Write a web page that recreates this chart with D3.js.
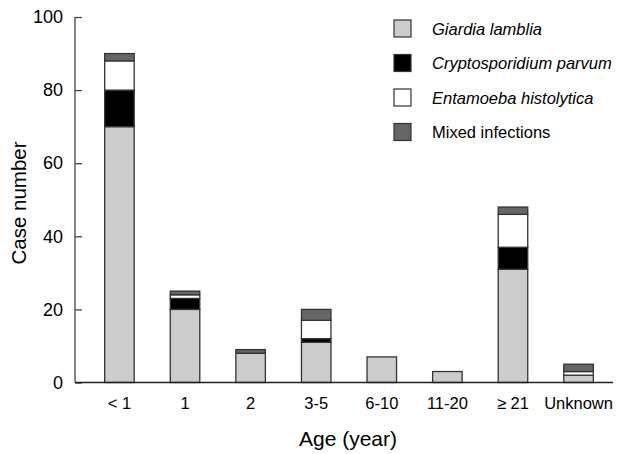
<!DOCTYPE html>
<html>
<head>
<meta charset="utf-8">
<script src="https://cdn.jsdelivr.net/npm/d3@7"></script>
<style>
    body { margin: 0; background: #fff; }
    text { font-family: "Liberation Sans", Arial, sans-serif; fill: #000; }
</style>
</head>
<body>
<svg id="chart" width="617" height="454"></svg>
<script>
    'use strict';

    var ageGroups = ['< 1', '1', '2', '3-5', '6-10', '11-20', '\u2265 21', 'Unknown'];
    var giardiaCases = [70, 20, 8, 11, 7, 3, 31, 2];
    var cryptoCases = [10, 3, 0, 1, 0, 0, 6, 0];
    var entamoebaCases = [8, 1, 0, 5, 0, 0, 9, 1];
    var mixedCases = [2, 1, 1, 3, 0, 0, 2, 2];
    var seriesNames = ['Giardia lamblia', 'Cryptosporidium parvum', 'Entamoeba histolytica', 'Mixed infections'];
    var yTicks = [0, 20, 40, 60, 80, 100];

    var COLORS = ['#cccccc', '#000000', '#ffffff', '#666666'];
    var ITALIC = [true, true, true, false];
    var STROKE = '#333';

    var svg = d3.select('#chart');

    var x = d3.scaleBand()
        .domain(ageGroups)
        .range([85, 613])
        .paddingInner(0.55)
        .paddingOuter(0.3);

    var y = d3.scaleLinear()
        .domain([0, 100])
        .range([382.5, 17]);

    var rows = ageGroups.map(function (age, i) {
        return {age: age, s0: giardiaCases[i], s1: cryptoCases[i], s2: entamoebaCases[i], s3: mixedCases[i]};
    });
    var stacked = d3.stack().keys(['s0', 's1', 's2', 's3'])(rows);

    // bars
    var barsGroup = svg.append('g');
    stacked.forEach(function (layer, k) {
        barsGroup.append('g')
            .selectAll('rect')
            .data(layer.filter(function (d) { return d[1] > d[0]; }))
            .enter()
            .append('rect')
            .attr('x', function (d) { return x(d.data.age); })
            .attr('width', x.bandwidth())
            .attr('y', function (d) { return y(d[1]); })
            .attr('height', function (d) { return y(d[0]) - y(d[1]); })
            .attr('fill', COLORS[k])
            .attr('stroke', STROKE)
            .attr('stroke-width', 1.3);
    });

    // y axis, ticks pointing inward
    var yAxis = svg.append('g')
        .attr('transform', 'translate(75,0)')
        .call(d3.axisRight(y).tickValues(yTicks).tickSize(7).tickFormat(d3.format('d')));
    yAxis.select('.domain').attr('stroke', '#444').attr('stroke-width', 1.3).attr('d', 'M0,' + y(100) + 'V' + y(0));
    yAxis.selectAll('.tick line').attr('stroke', '#444').attr('stroke-width', 1.3);
    yAxis.selectAll('.tick text')
        .attr('x', -12)
        .attr('text-anchor', 'end')
        .style('font-size', '18px');

    // x axis line
    var xAxis = svg.append('g')
        .attr('transform', 'translate(0,' + y(0) + ')')
        .call(d3.axisBottom(x).tickSize(0).tickPadding(15));
    xAxis.select('.domain').attr('stroke', '#222').attr('stroke-width', 1.5).attr('d', 'M75,0H613');
    xAxis.selectAll('.tick text').style('font-size', '16.5px');

    // axis titles
    svg.append('text')
        .attr('x', 348)
        .attr('y', 446)
        .attr('text-anchor', 'middle')
        .style('font-size', '21px')
        .text('Age (year)');

    svg.append('text')
        .attr('transform', 'translate(26,203) rotate(-90)')
        .attr('text-anchor', 'middle')
        .style('font-size', '20.5px')
        .text('Case number');

    // legend
    var legend = svg.append('g')
        .selectAll('g')
        .data(seriesNames)
        .enter()
        .append('g')
        .attr('transform', function (d, i) { return 'translate(394,' + (20 + i * 34.5) + ')'; });

    legend.append('rect')
        .attr('width', 17)
        .attr('height', 17)
        .attr('fill', function (d, i) { return COLORS[i]; })
        .attr('stroke', STROKE)
        .attr('stroke-width', 1.2);

    legend.append('text')
        .attr('x', 38)
        .attr('y', 14.5)
        .style('font-size', '16.5px')
        .style('font-style', function (d, i) { return ITALIC[i] ? 'italic' : 'normal'; })
        .text(function (d) { return d; });
</script>
</body>
</html>
